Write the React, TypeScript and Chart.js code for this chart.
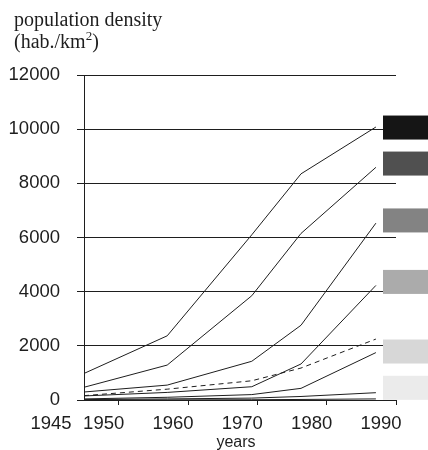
import React, { useEffect, useRef } from "react";
import { Chart, registerables } from "chart.js";

Chart.register(...registerables);

// ---- data ----
const years = [1945, 1957, 1969.2, 1976.3, 1987.1];
const seriesA = [980, 2370, 6100, 8350, 10080];
const seriesB = [470, 1290, 3850, 6150, 8590];
const seriesC = [295, 550, 1430, 2760, 6530];
const seriesD = [150, 280, 490, 1330, 4230];
const seriesDashed = [160, 400, 710, 1180, 2250];
const seriesE = [40, 100, 200, 430, 1750];
const seriesF = [15, 40, 70, 130, 270];
const seriesG = [0, 5, 10, 20, 40];

const xTickYears = [1950, 1960, 1970, 1980, 1990];
const xLabelYears = [1945, 1950, 1960, 1970, 1980, 1990];
const keyValues = [10060, 8730, 6630, 4360, 1790, 450];
const keyColors = ["#151515", "#505050", "#838383", "#ababab", "#d7d7d7", "#ebebeb"];

const titleLine1 = "population density";
const titleLine2a = "(hab./km";
const titleSup = "2";
const titleLine2b = ")";
const xTitle = "years";

const SANS = "'Liberation Sans', Arial, Helvetica, sans-serif";
const SERIF = "'Liberation Serif', 'Times New Roman', serif";
const INK = "#1e1e1e";

const decorPlugin = {
  id: "decor",
  afterDraw(chart: any) {
    const ctx = chart.ctx;
    const xs = chart.scales.x;
    const ys = chart.scales.y;
    ctx.save();
    // title
    ctx.fillStyle = INK;
    ctx.textAlign = "left";
    ctx.textBaseline = "alphabetic";
    ctx.font = `20px ${SERIF}`;
    ctx.fillText(titleLine1, 14, 26);
    ctx.fillText(titleLine2a, 14, 48);
    const w1 = ctx.measureText(titleLine2a).width;
    ctx.font = `13px ${SERIF}`;
    ctx.fillText(titleSup, 14 + w1, 40);
    const w2 = ctx.measureText(titleSup).width;
    ctx.font = `20px ${SERIF}`;
    ctx.fillText(titleLine2b, 14 + w1 + w2, 48);

    // x labels
    ctx.font = `18.5px ${SANS}`;
    ctx.textAlign = "center";
    xLabelYears.forEach((yr, i) => {
      const px = xs.getPixelForValue(yr) + (i === 0 ? -33 : -15);
      ctx.fillText(String(yr), px, 428.5);
    });
    // x title
    ctx.font = `16px ${SANS}`;
    ctx.fillText(xTitle, 236, 447);

    // key boxes
    keyValues.forEach((v, i) => {
      const py = ys.getPixelForValue(v);
      ctx.fillStyle = keyColors[i];
      ctx.fillRect(383, py - 12, 45, 24);
    });
    ctx.restore();
  },
};

function mk(data: number[], dashed = false) {
  return {
    data: years.map((yr, i) => ({ x: yr, y: data[i] })),
    borderColor: INK,
    borderWidth: 1,
    pointRadius: 0,
    tension: 0,
    fill: false,
    borderDash: dashed ? [5, 4] : [],
  };
}

export default function App() {
  const ref = useRef<HTMLCanvasElement | null>(null);
  useEffect(() => {
    if (!ref.current) return;
    const chart = new Chart(ref.current, {
      type: "line",
      data: {
        datasets: [
          mk(seriesA),
          mk(seriesB),
          mk(seriesC),
          mk(seriesD),
          mk(seriesDashed, true),
          mk(seriesE),
          mk(seriesF),
          mk(seriesG),
        ],
      },
      options: {
        animation: false,
        responsive: false,
        devicePixelRatio: 1,
        layout: { padding: { left: 0, top: 75, right: 32, bottom: 0 } },
        plugins: {
          legend: { display: false },
          tooltip: { enabled: false },
          title: { display: false },
        },
        scales: {
          x: {
            type: "linear",
            min: 1945,
            max: 1990,
            afterBuildTicks: (scale: any) => {
              scale.ticks = xTickYears.map((v) => ({ value: v }));
            },
            afterFit: (scale: any) => {
              scale.height = 50;
            },
            ticks: { display: false },
            grid: {
              drawOnChartArea: false,
              drawTicks: true,
              tickLength: 5,
              color: INK,
              lineWidth: 1,
            },
            border: { display: true, color: INK, width: 1 },
          },
          y: {
            type: "linear",
            min: 0,
            max: 12000,
            afterFit: (scale: any) => {
              scale.width = 84;
            },
            ticks: {
              stepSize: 2000,
              color: INK,
              padding: 17,
              font: { family: SANS, size: 18.5 },
              callback: (v: any) => String(v),
            },
            grid: {
              color: INK,
              lineWidth: 1,
              drawTicks: true,
              tickLength: 7,
            },
            border: { display: true, color: INK, width: 1 },
          },
        },
      },
      plugins: [decorPlugin],
    } as any);
    return () => chart.destroy();
  }, []);

  return (
    <div style={{ position: "absolute", left: 0, top: 0, width: 428, height: 450, background: "#fff" }}>
      <canvas ref={ref} width={428} height={450} style={{ display: "block" }} />
    </div>
  );
}
